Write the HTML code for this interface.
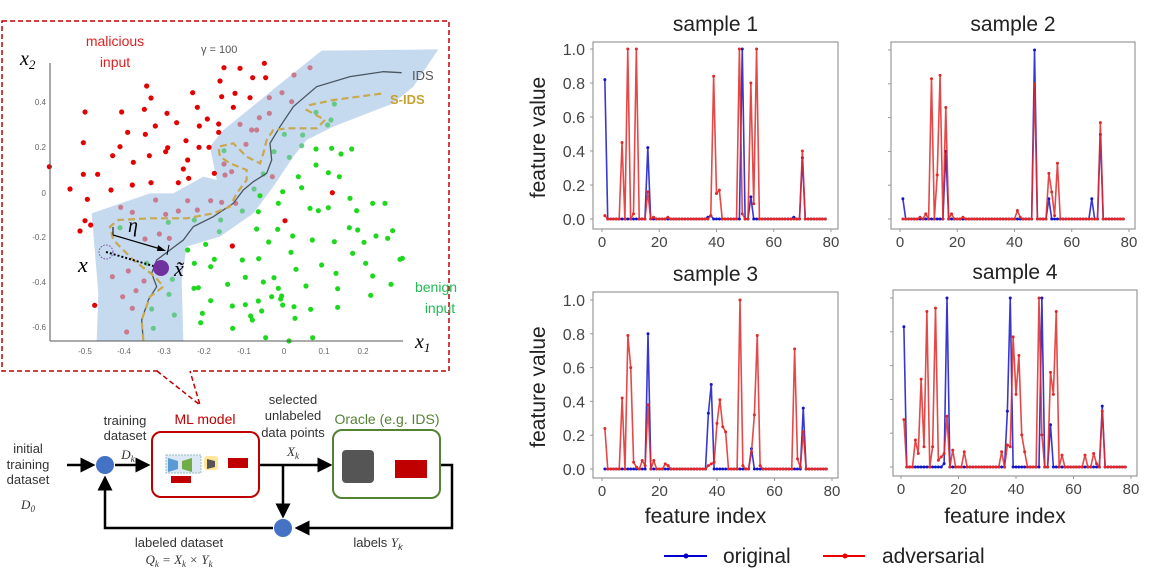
<!DOCTYPE html>
<html><head><meta charset="utf-8"><style>
html,body{margin:0;padding:0;background:#fff;}
svg{display:block;font-family:"Liberation Sans",sans-serif;}
</style></head><body>
<svg id="root" width="1162" height="570" viewBox="0 0 1162 570">
<g id="scatter">
  <rect x="2" y="21" width="447" height="350" fill="none" stroke="#c00000" stroke-width="1.5" stroke-dasharray="5,3"/>
  <rect x="160" y="368" width="32" height="6" fill="#fff"/>
  <polyline points="157,371 200,405 190,371" fill="none" stroke="#c00000" stroke-width="1.5" stroke-dasharray="5,3"/>
  <polygon id="band" fill="#c6daef" points=""/>
  <g id="dots"></g>
  <path id="idsLine" fill="none" stroke="#4a5560" stroke-width="1.3"/>
  <path id="sidsLine" fill="none" stroke="#c8a850" stroke-width="2.2" stroke-dasharray="7,4"/>
  <line x1="50" y1="63" x2="50" y2="341" stroke="#555" stroke-width="1"/>
  <line x1="50" y1="341" x2="403" y2="341" stroke="#555" stroke-width="1"/>
  <g font-size="8" fill="#666" text-anchor="end">
    <text x="46" y="105">0.4</text><text x="46" y="150">0.2</text><text x="46" y="196">0</text>
    <text x="46" y="240">-0.2</text><text x="46" y="285">-0.4</text><text x="46" y="330">-0.6</text>
  </g>
  <g font-size="8" fill="#666" text-anchor="middle">
    <text x="85" y="354">-0.5</text><text x="124" y="354">-0.4</text><text x="164" y="354">-0.3</text>
    <text x="204" y="354">-0.2</text><text x="244" y="354">-0.1</text><text x="284" y="354">0</text>
    <text x="324" y="354">0.1</text><text x="363" y="354">0.2</text>
  </g>
  <text x="20" y="65" font-family="Liberation Serif,serif" font-style="italic" font-size="20">x<tspan font-size="13" dy="4">2</tspan></text>
  <text x="415" y="348" font-family="Liberation Serif,serif" font-style="italic" font-size="20">x<tspan font-size="13" dy="4">1</tspan></text>
  <text x="115" y="46" font-size="14" fill="#e02020" text-anchor="middle">malicious</text>
  <text x="115" y="67" font-size="14" fill="#e02020" text-anchor="middle">input</text>
  <text x="436" y="292" font-size="14" fill="#22bb55" text-anchor="middle">benign</text>
  <text x="440" y="313" font-size="14" fill="#22bb55" text-anchor="middle">input</text>
  <text x="201" y="53" font-size="11" fill="#555">γ = 100</text>
  <text x="412" y="80" font-size="13" fill="#555">IDS</text>
  <text x="390" y="104" font-size="13" fill="#c8a030" font-weight="bold">S-IDS</text>
  <circle cx="106" cy="252" r="7" fill="none" stroke="#8040b0" stroke-dasharray="1.5,1.5"/>
  <line x1="106" y1="252" x2="160" y2="268" stroke="#000" stroke-width="2" stroke-dasharray="2,2"/>
  <circle cx="161" cy="268" r="8" fill="#7030a0"/>
  <line x1="113" y1="227" x2="113" y2="235" stroke="#000"/><line x1="169" y1="245" x2="167" y2="255" stroke="#000"/>
  <line x1="113" y1="235" x2="164" y2="250" stroke="#000" stroke-width="1.2"/>
  <polygon points="166,251 158,245 157,251" fill="#000"/>
  <text x="128" y="232" font-family="Liberation Serif,serif" font-style="italic" font-size="20">η</text>
  <text x="78" y="272" font-family="Liberation Serif,serif" font-style="italic" font-size="22">x</text>
  <text x="174" y="276" font-family="Liberation Serif,serif" font-style="italic" font-size="22">x̃</text>
</g>
<g id="diagram" font-size="13" fill="#333">
  <defs><marker id="ah" markerWidth="6" markerHeight="6" refX="5" refY="3" orient="auto"><path d="M0,0 L6,3 L0,6 Z" fill="#000"/></marker></defs>
  <g text-anchor="middle">
    <text x="28" y="453">initial</text><text x="28" y="469">training</text><text x="28" y="484">dataset</text>
    <text x="28" y="509" font-family="Liberation Serif,serif" font-style="italic">D<tspan font-size="9" dy="3">0</tspan></text>
  </g>
  <g stroke="#000" stroke-width="2.5" fill="none">
    <line x1="67" y1="465" x2="93" y2="465" marker-end="url(#ah)"/>
    <line x1="115" y1="465" x2="148" y2="465" marker-end="url(#ah)"/>
    <line x1="259" y1="465" x2="330" y2="465" marker-end="url(#ah)"/>
    <line x1="283" y1="465" x2="283" y2="516" marker-end="url(#ah)"/>
    <polyline points="440,465 452,465 452,528 297,528" marker-end="url(#ah)"/>
    <polyline points="273,528 105,528 105,478" marker-end="url(#ah)"/>
  </g>
  <circle cx="105" cy="465" r="9" fill="#4472c4"/>
  <circle cx="283" cy="528" r="9" fill="#4472c4"/>
  <g text-anchor="middle">
    <text x="125" y="425">training</text><text x="125" y="440">dataset</text>
    <text x="128" y="459" font-family="Liberation Serif,serif" font-style="italic">D<tspan font-size="9" dy="3">k</tspan></text>
  </g>
  <rect x="152" y="432" width="107" height="65" rx="9" fill="#fff" stroke="#c00000" stroke-width="2"/>
  <rect x="166" y="455" width="35" height="18" fill="#dde8f5" stroke="#9bb" stroke-dasharray="2,1"/>
  <polygon points="168,458 178,461 178,469 168,472" fill="#5b9bd5"/><polygon points="182,461 192,458 192,472 182,469" fill="#70ad47"/>
  <rect x="204" y="456" width="14" height="14" rx="3" fill="#ffe699"/><polygon points="207,459 215,461 215,467 207,469" fill="#555"/>
  <rect x="228" y="458" width="20" height="10" fill="#c00000"/><rect x="171" y="476" width="20" height="7" fill="#c00000"/>
  <text x="205" y="424" fill="#c00000" text-anchor="middle" font-size="14">ML model</text>
  <g text-anchor="middle">
    <text x="293" y="404">selected</text><text x="293" y="420">unlabeled</text><text x="293" y="437">data points</text>
    <text x="293" y="456" font-family="Liberation Serif,serif" font-style="italic">X<tspan font-size="9" dy="3">k</tspan></text>
  </g>
  <rect x="333" y="430" width="107" height="68" rx="9" fill="#fff" stroke="#548235" stroke-width="2"/>
  <rect x="342" y="450" width="32" height="33" rx="4" fill="#555"/>
  <rect x="395" y="460" width="32" height="18" fill="#c00000"/>
  <text x="387" y="424" fill="#548235" text-anchor="middle" font-size="14">Oracle (e.g. IDS)</text>
  <g text-anchor="middle">
    <text x="179" y="547">labeled dataset</text>
    <text x="179" y="564" font-family="Liberation Serif,serif" font-style="italic">Q<tspan font-size="9" dy="3">k</tspan><tspan dy="-3"> = X</tspan><tspan font-size="9" dy="3">k</tspan><tspan dy="-3"> × Y</tspan><tspan font-size="9" dy="3">k</tspan></text>
  </g>
  <text x="378" y="547" text-anchor="middle">labels <tspan font-family="Liberation Serif,serif" font-style="italic">Y</tspan><tspan font-size="9" dy="3" font-style="italic">k</tspan></text>
</g>
<g id="charts"></g>
<g>
  <g>
    <line x1="664" y1="556" x2="707" y2="556" stroke="#0000cc" stroke-width="2"/><circle cx="686" cy="556" r="2.5" fill="#0000cc"/>
    <text x="723" y="563" font-size="21" fill="#222">original</text>
  </g>
  <g>
    <line x1="823" y1="556" x2="865" y2="556" stroke="#ee0000" stroke-width="2"/><circle cx="845" cy="556" r="2.5" fill="#ee0000"/>
    <text x="882" y="563" font-size="21" fill="#222">adversarial</text>
  </g>
</g>
</svg>
<script>
const featureCount = 78;
const xTicks = [0, 20, 40, 60, 80];
const yTicks = [0.0, 0.2, 0.4, 0.6, 0.8, 1.0];
const sampleTitles = ["sample 1", "sample 2", "sample 3", "sample 4"];

const s1OrigIdx = [1, 16, 37, 38, 49, 52, 67, 70];
const s1OrigVal = [0.82, 0.42, 0.01, 0.02, 1.0, 0.13, 0.01, 0.36];
const s1AdvIdx = [1, 7, 9, 11, 12, 16, 18, 23, 38, 39, 40, 41, 48, 49, 52, 53, 54, 70];
const s1AdvVal = [0.02, 0.45, 1.0, 0.03, 1.0, 0.16, 0.01, 0.01, 0.02, 0.84, 0.15, 0.17, 1.0, 0.03, 0.8, 0.09, 1.0, 0.4];

const s2OrigIdx = [1, 16, 47, 52, 67, 70];
const s2OrigVal = [0.12, 0.4, 1.0, 0.12, 0.12, 0.5];
const s2AdvIdx = [7, 9, 11, 13, 14, 16, 18, 22, 41, 42, 47, 52, 53, 54, 55, 70];
const s2AdvVal = [0.01, 0.03, 0.83, 0.26, 0.85, 0.66, 0.03, 0.01, 0.05, 0.01, 0.8, 0.27, 0.16, 0.02, 0.33, 0.57];

const s3OrigIdx = [16, 37, 38, 52, 70];
const s3OrigVal = [0.8, 0.33, 0.5, 0.12, 0.36];
const s3AdvIdx = [1, 7, 9, 10, 11, 12, 14, 15, 16, 18, 22, 23, 37, 38, 39, 40, 41, 42, 43, 48, 49, 52, 53, 54, 55, 67, 68, 69, 70];
const s3AdvVal = [0.24, 0.42, 0.79, 0.6, 0.04, 0.01, 0.05, 0.02, 0.38, 0.05, 0.03, 0.02, 0.02, 0.03, 0.04, 0.27, 0.41, 0.25, 0.22, 1.0, 0.02, 0.1, 0.32, 0.79, 0.02, 0.71, 0.06, 0.01, 0.22];

const s4OrigIdx = [1, 15, 16, 37, 38, 49, 52, 70];
const s4OrigVal = [0.83, 0.02, 1.0, 0.33, 1.0, 1.0, 0.25, 0.36];
const s4AdvIdx = [1, 5, 6, 7, 8, 9, 11, 12, 13, 14, 15, 16, 18, 22, 35, 37, 38, 39, 40, 41, 42, 43, 48, 49, 52, 53, 54, 56, 64, 67, 68, 70];
const s4AdvVal = [0.28, 0.16, 0.08, 0.52, 0.12, 0.92, 0.12, 0.94, 0.04, 0.06, 0.08, 0.3, 0.1, 0.09, 0.09, 0.13, 0.12, 0.77, 0.43, 0.66, 0.19, 0.09, 1.0, 0.19, 0.56, 0.43, 0.92, 0.07, 0.07, 0.08, 0.02, 0.33];

const panels = [
  {frame:[593,42,245,187], x0:602, x80:831, y0:219, y1:49, orig:[s1OrigIdx,s1OrigVal], adv:[s1AdvIdx,s1AdvVal], yl:true, xl:false},
  {frame:[891,42,244,187], x0:900, x80:1129, y0:219, y1:50, orig:[s2OrigIdx,s2OrigVal], adv:[s2AdvIdx,s2AdvVal], yl:false, xl:false},
  {frame:[593,292,245,186], x0:602, x80:832, y0:469, y1:300, orig:[s3OrigIdx,s3OrigVal], adv:[s3AdvIdx,s3AdvVal], yl:true, xl:true},
  {frame:[893,290,244,186], x0:901, x80:1131, y0:467, y1:298, orig:[s4OrigIdx,s4OrigVal], adv:[s4AdvIdx,s4AdvVal], yl:false, xl:true}
];
const NS = "http://www.w3.org/2000/svg";
function mk(tag, attrs, parent){const e=document.createElementNS(NS,tag);for(const k in attrs)e.setAttribute(k,attrs[k]);parent.appendChild(e);return e;}
function expand(idx, val){const out=[];for(let i=1;i<=featureCount;i++){const j=idx.indexOf(i);out.push(j>=0?val[j]:0);}return out;}
const charts=document.getElementById('charts');
panels.forEach((p,pi)=>{
  const g=mk('g',{},charts);
  
  
  const xs=v=>p.x0+(p.x80-p.x0)*v/80, ys=v=>p.y0+(p.y1-p.y0)*v;
  const [fx,fy,fw,fh]=p.frame;
  const fr=mk('rect',{x:fx,y:fy,width:fw,height:fh,fill:'#fff',stroke:'#999','stroke-width':1.2},g);
  
  
  const t=mk('text',{x:fx+fw/2,y:fy-11,'text-anchor':'middle','font-size':21,fill:'#222'},g);
  t.textContent=sampleTitles[pi];
  
  
  yTicks.forEach(v=>{
    mk('line',{x1:fx-3,x2:fx,y1:ys(v),y2:ys(v),stroke:'#999'},g);
    if(p.yl){const tt=mk('text',{x:fx-8,y:ys(v)+6,'text-anchor':'end','font-size':16,fill:'#444'},g);tt.textContent=v.toFixed(1);
      
      }
  });
  xTicks.forEach(v=>{
    mk('line',{x1:xs(v),x2:xs(v),y1:fy+fh,y2:fy+fh+3,stroke:'#999'},g);
    const tt=mk('text',{x:xs(v),y:fy+fh+18,'text-anchor':'middle','font-size':15,fill:'#444'},g);tt.textContent=v;
    
    
  });
  [[p.orig,'#1515c8','original'],[p.adv,'#e02828','adversarial']].forEach(([d,c,nm])=>{
    const vals=expand(d[0],d[1]);
    const pts=vals.map((v,i)=>xs(i+1)+','+ys(v)).join(' ');
    const pl=mk('polyline',{points:pts,fill:'none',stroke:c,'stroke-width':1.6,'stroke-opacity':0.85,'stroke-linejoin':'round'},g);
    
    
    vals.forEach((v,i)=>{const m=mk('circle',{cx:xs(i+1),cy:ys(v),r:1.5,fill:c},g);
      
      });
  });
  if(p.yl){const yl=mk('text',{x:0,y:0,'text-anchor':'middle','font-size':21,fill:'#222',transform:`translate(545,${fy+fh/2+2}) rotate(-90)`},g);yl.textContent='feature value';
    
    }
  if(p.xl){const xl=mk('text',{x:fx+fw/2-10,y:523,'text-anchor':'middle','font-size':21,fill:'#222'},g);xl.textContent='feature index';
    
    }
});
const bandPts=[[965,152],[1315,148],[1240,260],[1180,310],[1000,380],[920,420],[880,470],[820,560],[760,640],[660,710],[560,740],[545,840],[550,1022],[290,1022],[295,880],[275,640],[450,580],[520,580],[610,530],[650,540],[630,440],[670,390],[720,350],[830,260]];
const idsPts=[[430,1022],[425,960],[445,900],[470,860],[455,820],[470,780],[510,750],[550,720],[580,680],[640,650],[700,610],[730,570],[760,545],[800,520],[815,480],[810,430],[840,380],[880,320],[950,260],[1050,230],[1150,215],[1205,218]];
const sidsPts=[[430,1022],[425,960],[450,890],[490,860],[465,830],[400,780],[340,720],[330,680],[355,660],[450,655],[560,655],[640,640],[690,620],[710,580],[740,540],[740,510],[690,490],[660,470],[655,440],[700,430],[740,470],[780,490],[790,460],[800,420],[820,390],[860,385],[950,385],[975,360],[920,330],[930,315],[1000,300],[1150,280]];
const redPts=[[148,500],[255,336],[250,428],[250,523],[210,567],[262,598],[255,662],[240,693],[272,675],[284,916],[293,523],[338,467],[333,570],[365,336],[383,397],[360,440],[400,487],[397,555],[440,258],[453,294],[433,328],[436,403],[448,467],[466,378],[453,548],[501,340],[497,455],[503,443],[530,368],[558,422],[563,480],[550,507],[535,548],[566,535],[578,278],[592,322],[598,378],[622,357],[597,442],[627,442],[643,520],[656,372],[656,397],[672,203],[660,243],[665,290],[705,280],[700,322],[720,205],[758,233],[750,293],[793,190],[797,233],[697,738],[855,662],[997,578]];
const pinkPts=[[362,622],[397,637],[467,600],[497,643],[535,633],[563,602],[592,630],[632,602],[665,607],[707,610],[435,717],[478,702],[508,715],[337,830],[385,813],[368,890],[397,925],[408,872],[432,843],[380,996],[675,525],[695,515],[738,433],[672,492],[720,373],[755,390],[770,390],[778,353],[808,340],[808,293],[846,278],[875,305],[882,225],[930,203],[817,530]];
const paleGreenPts=[[360,683],[505,667],[583,660],[662,660],[658,695],[727,633],[762,567],[790,522],[822,455],[853,403],[908,405],[868,472],[905,437],[948,337],[1003,312],[993,360],[983,375],[672,452],[517,838],[507,883],[455,927],[460,985],[523,945],[440,790]];
const greenPts=[[780,587],[835,610],[848,575],[775,635],[770,687],[806,726],[833,688],[878,708],[873,757],[888,808],[930,625],[955,632],[985,623],[937,720],[1003,725],[1048,683],[1073,690],[1092,727],[1128,708],[1163,715],[1178,692],[1058,760],[1097,790],[1070,632],[1050,595],[1118,610],[1155,610],[1018,530],[985,518],[948,495],[895,530],[905,563],[948,447],[995,445],[1023,462],[1055,447],[563,750],[617,733],[583,790],[643,778],[632,800],[727,780],[776,776],[965,795],[1008,820],[1118,828],[1173,853],[1200,778],[1207,775],[1112,886],[1013,866],[918,858],[835,865],[822,833],[790,846],[736,832],[683,853],[582,865],[595,863],[632,902],[697,918],[736,914],[775,903],[785,933],[815,890],[842,897],[848,915],[882,920],[885,955],[932,928],[1013,922],[607,940],[602,968],[752,948],[757,960],[698,985],[797,1013],[867,1023],[938,1013],[845,888]];
const u=v=>v/3;
document.getElementById('band').setAttribute('points',bandPts.map(p=>u(p[0])+','+u(p[1])).join(' '));
const path=ps=>'M'+ps.map(p=>u(p[0])+','+u(p[1])).join(' L');
document.getElementById('idsLine').setAttribute('d',path(idsPts));
document.getElementById('sidsLine').setAttribute('d',path(sidsPts));
const dots=document.getElementById('dots');
[[redPts,'#e30000','malicious-point'],[pinkPts,'#c87a8e','malicious-point-in-band'],[paleGreenPts,'#66c98a','benign-point-in-band'],[greenPts,'#1ed81e','benign-point']].forEach(([arr,c,nm])=>{
  arr.forEach(p=>{const d=mk('circle',{cx:u(p[0]),cy:u(p[1]),r:2.6,fill:c},dots);
    
    });
});
</script>
</body></html>
